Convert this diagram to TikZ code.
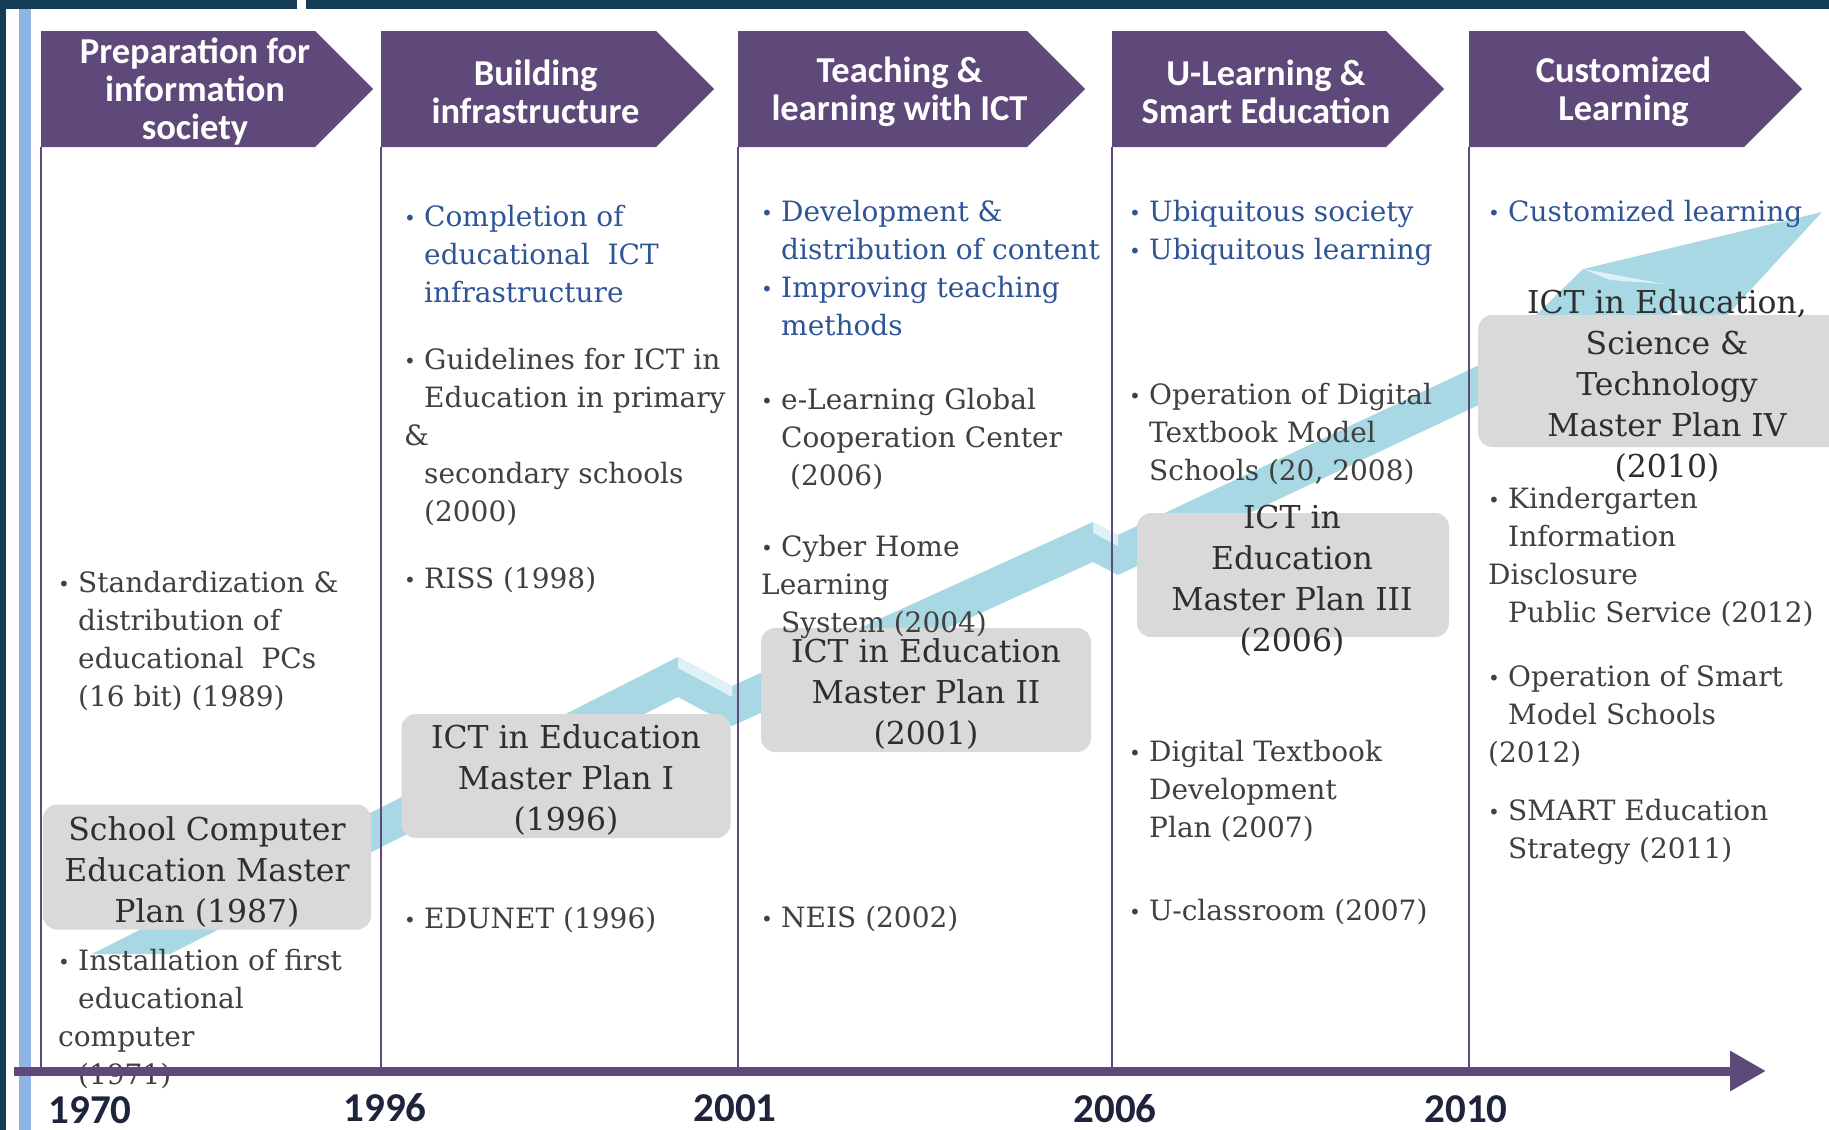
\documentclass[tikz,border=0pt]{standalone}
\usepackage{fontspec}
\usetikzlibrary{arrows.meta}

\newfontfamily\bodyfont{DejaVu Serif}
\newfontfamily\headfont{Carlito}

\definecolor{hdr}{RGB}{95,73,122}
\definecolor{frame}{RGB}{20,60,86}
\definecolor{edge}{RGB}{142,180,226}
\definecolor{ribbon}{RGB}{168,216,228}
\definecolor{facet}{RGB}{222,241,246}
\definecolor{boxgray}{RGB}{217,217,217}
\definecolor{bodygray}{RGB}{64,64,64}
\definecolor{goalblue}{RGB}{47,85,151}
\definecolor{yearc}{RGB}{30,36,60}

% bullet with a strut, so every item node has the same first-line height
\newcommand\bul{\rule{0pt}{28pt}\makebox[20pt][l]{\fontsize{20}{20}\selectfont\raisebox{1pt}{•}}}
\newcommand\ind{\hspace*{20pt}}

\tikzset{
  phase/.style={text=white, font=\headfont\bfseries\fontsize{36.5}{38}\selectfont, align=center, inner sep=0},
  item/.style={anchor=north west, yshift=28pt, inner sep=0, align=left, text=bodygray,
    font=\bodyfont\fontsize{28}{38}\selectfont},
  goal/.style={item, text=goalblue},
  planbox/.style={fill=boxgray, rounded corners=14pt, inner sep=0},
  plantext/.style={text=black!82, align=center, inner sep=0,
    font=\bodyfont\fontsize{31.5}{41}\selectfont},
  year/.style={text=yearc, font=\headfont\bfseries\fontsize{41}{41}\selectfont, inner sep=0},
  divider/.style={hdr, line width=1.4pt},
  axis/.style={hdr, line width=9pt, -{Triangle[length=36pt,width=38pt]}}
}

\begin{document}
\begin{tikzpicture}[x=1pt, y=-1pt]
  \useasboundingbox (0,0) rectangle (1829,1130);
  \fill[white] (0,0) rectangle (1829,1130);
  % frame of the slide
  \fill[frame] (0,0) rectangle (1829,9);
  \fill[white] (297,0) rectangle (306,9);
  \fill[frame] (0,0) rectangle (6,1130);
  \fill[edge] (19,9) rectangle (31,1130);

  % rising staircase arrow
  \fill[ribbon] (92,954) -- (678,657) -- (732,686) -- (1093,522) -- (1118,535)
    -- (1490,360) -- (1583,269) -- (1822,212) -- (1700,345) -- (1680,310)
    -- (1118,575) -- (1093,562) -- (732,726) -- (678,697) -- (170,954) -- cycle;
  \fill[facet] (678,657) -- (732,686) -- (732,697) -- (678,668) -- cycle;
  \fill[facet] (1093,522) -- (1118,535) -- (1118,546) -- (1093,533) -- cycle;
  \fill[facet] (1583,269) -- (1665,284) -- (1610,280) -- cycle;

  % columns
  \foreach \x in {41,381,738,1112,1469}
    \draw[divider] (\x,147) -- (\x,1067);

  % phase headers
  \foreach \x/\w/\n/\t in {41/332/ph1/{Preparation for\\information\\society},
      381/333/ph2/{Building\\infrastructure},
      738/347/ph3/{Teaching \&\\learning with ICT},
      1112/332/ph4/{U-Learning \&\\Smart Education},
      1469/333/ph5/{Customized\\Learning}} {
    \fill[hdr] (\x,31) -- ++(\w-58,0) -- ++(58,58) -- ++(-58,58) -- ++(58-\w,0) -- cycle;
    \node[phase] (\n) at (\x+\w/2-12,92) {\t};
  }

  % master plans
  \node[planbox, minimum width=328pt, minimum height=125pt] (pb1) at (207,867) {};
  \node[plantext] (pt1) at (207,872) {School Computer\\Education Master\\Plan (1987)};
  \node[planbox, minimum width=329pt, minimum height=124pt] (pb2) at (566,776) {};
  \node[plantext] (pt2) at (566,780) {ICT in Education\\Master Plan I\\(1996)};
  \node[planbox, minimum width=330pt, minimum height=124pt] (pb3) at (926,690) {};
  \node[plantext] (pt3) at (926,694) {ICT in Education\\Master Plan II\\(2001)};
  \node[planbox, minimum width=312pt, minimum height=124pt] (pb4) at (1293,575) {};
  \node[plantext] (pt4) at (1292,581) {ICT in\\Education\\Master Plan III\\(2006)};
  \node[planbox, minimum width=380pt, minimum height=132pt, anchor=west] (pb5) at (1478,381) {};
  \node[plantext] (pt5) at (1667,386) {ICT in Education,\\Science \&\\Technology\\Master Plan IV\\(2010)};

  % events
  \node[item] (c1a) at (58,592) {\bul Standardization \&\\\ind distribution of\\\ind educational\ \ PCs\\\ind (16 bit) (1989)};
  \node[item] (c1b) at (58,970) {\bul Installation of first\\\ind educational\\computer\\\ind (1971)};

  \node[goal] (c2a) at (404,226) {\bul Completion of\\\ind educational\ \ ICT\\\ind infrastructure};
  \node[item] (c2b) at (404,369) {\bul Guidelines for ICT in\\\ind Education in primary\\\&\\\ind secondary schools\\\ind (2000)};
  \node[item] (c2c) at (404,588) {\bul RISS (1998)};
  \node[item] (c2d) at (404,928) {\bul EDUNET (1996)};

  \node[goal] (c3a) at (761,221) {\bul Development \&\\\ind distribution of content\\\bul Improving teaching\\\ind methods};
  \node[item] (c3b) at (761,409) {\bul e-Learning Global\\\ind Cooperation Center\\\ind\ (2006)};
  \node[item] (c3c) at (761,556) {\bul Cyber Home\\Learning\\\ind System (2004)};
  \node[item] (c3d) at (761,927) {\bul NEIS (2002)};

  \node[goal] (c4a) at (1129,221) {\bul Ubiquitous society\\\bul Ubiquitous learning};
  \node[item] (c4b) at (1129,404) {\bul Operation of Digital\\\ind Textbook Model\\\ind Schools (20, 2008)};
  \node[item] (c4c) at (1129,761) {\bul Digital Textbook\\\ind Development\\\ind Plan (2007)};
  \node[item] (c4d) at (1129,920) {\bul U-classroom (2007)};

  \node[goal] (c5a) at (1488,221) {\bul Customized learning};
  \node[item] (c5b) at (1488,508) {\bul Kindergarten\\\ind Information\\Disclosure\\\ind Public Service (2012)};
  \node[item] (c5c) at (1488,686) {\bul Operation of Smart\\\ind Model Schools\\(2012)};
  \node[item] (c5d) at (1488,820) {\bul SMART Education\\\ind Strategy (2011)};

  % time axis
  \coordinate (t0) at (14,1071);
  \coordinate (t1) at (1766,1071);
  \draw[axis] (t0) -- (t1);
  \node[year] (y1970) at (90,1110) {1970};
  \node[year] (y1996) at (385,1108) {1996};
  \node[year] (y2001) at (735,1108) {2001};
  \node[year] (y2006) at (1115,1109) {2006};
  \node[year] (y2010) at (1466,1109) {2010};
\end{tikzpicture}
\end{document}
